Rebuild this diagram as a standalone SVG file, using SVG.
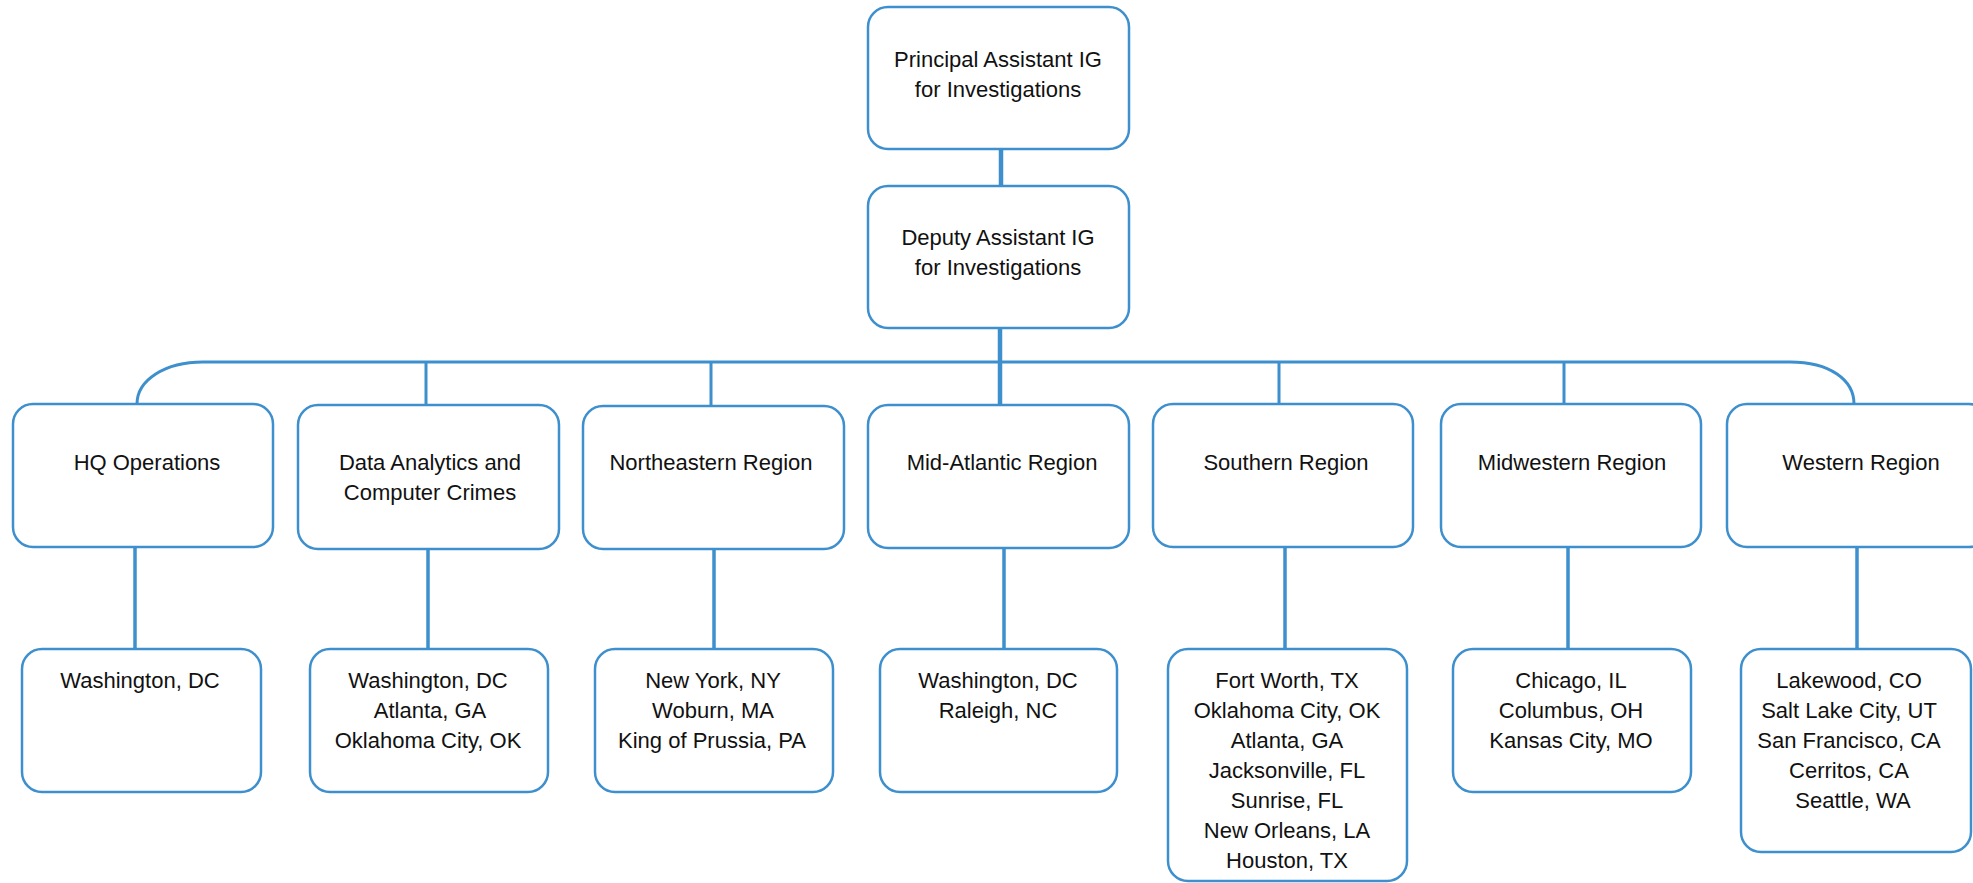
<svg xmlns="http://www.w3.org/2000/svg" width="1973" height="883" viewBox="0 0 1973 883">
<style>
.box{fill:#fff;stroke:#3d8fcd;stroke-width:2.5}
.ln{fill:none;stroke:#3d8fcd;stroke-width:3.5}
.bus{fill:none;stroke:#3d8fcd;stroke-width:3}
.main{fill:none;stroke:#3d8fcd;stroke-width:4.5}
text{font-family:"Liberation Sans",Arial,sans-serif;font-size:22px;fill:#111;text-anchor:middle}
</style>
<rect width="1973" height="883" fill="#fff"/>
<g id="connectors">
<line class="main" x1="1001" y1="149" x2="1001" y2="186"/>
<line class="main" x1="1000" y1="328" x2="1000" y2="405"/>
<path class="bus" d="M137,404 C137,380 165,362 203,362 L1790,362 C1830,362 1854,380 1854,404"/>
<line class="bus" x1="426" y1="362" x2="426" y2="405"/>
<line class="bus" x1="711" y1="362" x2="711" y2="406"/>
<line class="bus" x1="1279" y1="362" x2="1279" y2="404"/>
<line class="bus" x1="1564" y1="362" x2="1564" y2="404"/>
<line class="ln" x1="135" y1="547" x2="135" y2="649"/>
<line class="ln" x1="428" y1="549" x2="428" y2="649"/>
<line class="ln" x1="714" y1="549" x2="714" y2="649"/>
<line class="ln" x1="1004" y1="548" x2="1004" y2="649"/>
<line class="ln" x1="1285" y1="547" x2="1285" y2="649"/>
<line class="ln" x1="1568" y1="547" x2="1568" y2="649"/>
<line class="ln" x1="1857" y1="547" x2="1857" y2="649"/>
</g>
<g id="principal">
<rect class="box" x="868" y="7" width="261" height="142" rx="20"/>
<text x="998" y="67">Principal Assistant IG</text>
<text x="998" y="97">for Investigations</text>
</g>
<g id="deputy">
<rect class="box" x="868" y="186" width="261" height="142" rx="20"/>
<text x="998" y="245">Deputy Assistant IG</text>
<text x="998" y="275">for Investigations</text>
</g>
<g id="hq">
<rect class="box" x="13" y="404" width="260" height="143" rx="20"/>
<text x="147" y="470">HQ Operations</text>
</g>
<g id="data">
<rect class="box" x="298" y="405" width="261" height="144" rx="20"/>
<text x="430" y="470">Data Analytics and</text>
<text x="430" y="500">Computer Crimes</text>
</g>
<g id="northeastern">
<rect class="box" x="583" y="406" width="261" height="143" rx="20"/>
<text x="711" y="470">Northeastern Region</text>
</g>
<g id="midatlantic">
<rect class="box" x="868" y="405" width="261" height="143" rx="20"/>
<text x="1002" y="470">Mid-Atlantic Region</text>
</g>
<g id="southern">
<rect class="box" x="1153" y="404" width="260" height="143" rx="20"/>
<text x="1286" y="470">Southern Region</text>
</g>
<g id="midwestern">
<rect class="box" x="1441" y="404" width="260" height="143" rx="20"/>
<text x="1572" y="470">Midwestern Region</text>
</g>
<g id="western">
<rect class="box" x="1727" y="404" width="262" height="143" rx="20"/>
<text x="1861" y="470">Western Region</text>
</g>
<g id="hq-loc">
<rect class="box" x="22" y="649" width="239" height="143" rx="20"/>
<text x="140" y="688">Washington, DC</text>
</g>
<g id="data-loc">
<rect class="box" x="310" y="649" width="238" height="143" rx="20"/>
<text x="428" y="688">Washington, DC</text>
<text x="430" y="718">Atlanta, GA</text>
<text x="428" y="748">Oklahoma City, OK</text>
</g>
<g id="ne-loc">
<rect class="box" x="595" y="649" width="238" height="143" rx="20"/>
<text x="713" y="688">New York, NY</text>
<text x="713" y="718">Woburn, MA</text>
<text x="712" y="748">King of Prussia, PA</text>
</g>
<g id="ma-loc">
<rect class="box" x="880" y="649" width="237" height="143" rx="20"/>
<text x="998" y="688">Washington, DC</text>
<text x="998" y="718">Raleigh, NC</text>
</g>
<g id="south-loc">
<rect class="box" x="1168" y="649" width="239" height="232" rx="20"/>
<text x="1287" y="688">Fort Worth, TX</text>
<text x="1287" y="718">Oklahoma City, OK</text>
<text x="1287" y="748">Atlanta, GA</text>
<text x="1287" y="778">Jacksonville, FL</text>
<text x="1287" y="808">Sunrise, FL</text>
<text x="1287" y="838">New Orleans, LA</text>
<text x="1287" y="868">Houston, TX</text>
</g>
<g id="mw-loc">
<rect class="box" x="1453" y="649" width="238" height="143" rx="20"/>
<text x="1571" y="688">Chicago, IL</text>
<text x="1571" y="718">Columbus, OH</text>
<text x="1571" y="748">Kansas City, MO</text>
</g>
<g id="west-loc">
<rect class="box" x="1741" y="649" width="230" height="203" rx="20"/>
<text x="1849" y="688">Lakewood, CO</text>
<text x="1849" y="718">Salt Lake City, UT</text>
<text x="1849" y="748">San Francisco, CA</text>
<text x="1849" y="778">Cerritos, CA</text>
<text x="1853" y="808">Seattle, WA</text>
</g>
</svg>
